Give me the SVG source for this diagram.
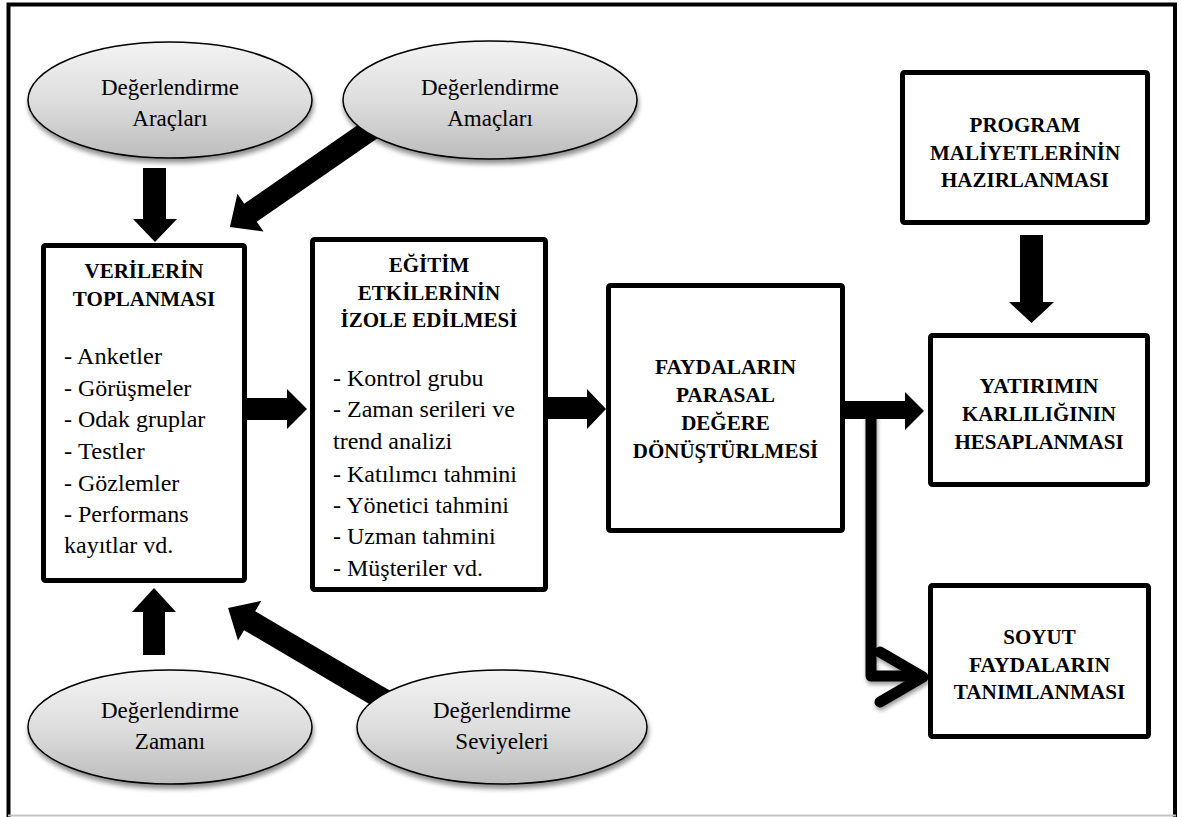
<svg xmlns="http://www.w3.org/2000/svg" width="1182" height="817" viewBox="0 0 1182 817" font-family="'Liberation Serif', Tinos, 'Times New Roman', Times, 'Nimbus Roman', 'DejaVu Serif', 'Noto Serif', serif">
<style>
text{font-family:'Liberation Serif', Tinos, 'Times New Roman', Times, 'Nimbus Roman', 'DejaVu Serif', 'Noto Serif', serif}
.box{fill:#fff;stroke:#000;stroke-width:5;stroke-linejoin:round}
.ell{fill:url(#eg);stroke:#000;stroke-width:1.5;filter:url(#sh)}
.et{font-size:23px;fill:#000;text-anchor:middle}
.bt{font-size:21px;font-weight:bold;fill:#000;text-anchor:middle}
.lt{font-size:24px;fill:#000}
.arr{fill:#000;stroke:none}
</style>
<defs>
<linearGradient id="eg" x1="0" y1="0" x2="0" y2="1">
<stop offset="0" stop-color="#f3f3f3"/>
<stop offset="0.5" stop-color="#dedede"/>
<stop offset="1" stop-color="#bcbcbc"/>
</linearGradient>
<filter id="sh" x="-10%" y="-10%" width="120%" height="130%">
<feGaussianBlur in="SourceAlpha" stdDeviation="2.5"/>
<feOffset dx="1" dy="4" result="o"/>
<feComponentTransfer><feFuncA type="linear" slope="0.45"/></feComponentTransfer>
<feMerge><feMergeNode/><feMergeNode in="SourceGraphic"/></feMerge>
</filter>
<filter id="sh2" x="-20%" y="-20%" width="140%" height="140%">
<feGaussianBlur in="SourceAlpha" stdDeviation="2"/>
<feOffset dx="1" dy="3"/>
<feComponentTransfer><feFuncA type="linear" slope="0.4"/></feComponentTransfer>
<feMerge><feMergeNode/><feMergeNode in="SourceGraphic"/></feMerge>
</filter>
</defs>
<rect x="0" y="0" width="1182" height="817" fill="#fff"/>
<g id="frame">
<path d="M8.5,817 V4.5 H1175 V817" fill="none" stroke="#000" stroke-width="4"/>
<line x1="8" y1="815.5" x2="1176" y2="815.5" stroke="#c4c4c4" stroke-width="2"/>
</g>

<g id="connectors">
<polygon class="arr" points="143,168 166,168 166,219 177,219 155,242 133,219 143,219"/>
<polygon class="arr" transform="translate(373.4,127.6) rotate(145.3)" points="0,-11 149.5,-11 149.5,-23 174.5,0 149.5,23 149.5,11 0,11"/>
<polygon class="arr" points="143,655 165,655 165,612 176,612 154,588 132,612 143,612"/>
<polygon class="arr" transform="translate(388,702.2) rotate(-149.5)" points="0,-11 160.6,-11 160.6,-23 185.6,0 160.6,23 160.6,11 0,11"/>
<polygon class="arr" points="247,398 287,398 287,389 307,409 287,429 287,420 247,420"/>
<polygon class="arr" points="547,397 587,397 587,389 606,409 587,429 587,419 547,419"/>
<polygon class="arr" points="843,401 905,401 905,392 924,411 905,430 905,419 843,419"/>
<polygon class="arr" points="1020,235 1043,235 1043,302 1054,302 1031.5,323 1009,302 1020,302"/>
<g filter="url(#sh2)" fill="none" stroke="#000" stroke-width="11" stroke-linecap="round" stroke-linejoin="round">
<path d="M871,411 V676 H918"/>
<polyline points="880,652 923,677 880,702"/>
</g>
</g>

<g id="n-araclari">
<ellipse class="ell" cx="170" cy="100" rx="142" ry="58"/>
<text class="et" x="170" y="95" textLength="138" lengthAdjust="spacingAndGlyphs">Değerlendirme</text>
<text class="et" x="170" y="126" textLength="75.3" lengthAdjust="spacingAndGlyphs">Araçları</text>
</g>
<g id="n-amaclari">
<ellipse class="ell" cx="490" cy="100" rx="147" ry="59"/>
<text class="et" x="490" y="95" textLength="138" lengthAdjust="spacingAndGlyphs">Değerlendirme</text>
<text class="et" x="490" y="126" textLength="85.6" lengthAdjust="spacingAndGlyphs">Amaçları</text>
</g>
<g id="n-zamani">
<ellipse class="ell" cx="170" cy="727" rx="142" ry="57"/>
<text class="et" x="170" y="718" textLength="138" lengthAdjust="spacingAndGlyphs">Değerlendirme</text>
<text class="et" x="170" y="749" textLength="70.3" lengthAdjust="spacingAndGlyphs">Zamanı</text>
</g>
<g id="n-seviyeleri">
<ellipse class="ell" cx="502" cy="727" rx="145" ry="57"/>
<text class="et" x="502" y="718" textLength="138" lengthAdjust="spacingAndGlyphs">Değerlendirme</text>
<text class="et" x="502" y="749" textLength="93.3" lengthAdjust="spacingAndGlyphs">Seviyeleri</text>
</g>

<g id="n-veriler">
<rect class="box" x="43.5" y="245.5" width="201" height="335" rx="2"/>
<text class="bt" x="144" y="278" textLength="119" lengthAdjust="spacingAndGlyphs">VERİLERİN</text>
<text class="bt" x="144" y="306" textLength="142.3" lengthAdjust="spacingAndGlyphs">TOPLANMASI</text>
<text class="lt" x="64" y="364" textLength="98" lengthAdjust="spacingAndGlyphs">- Anketler</text>
<text class="lt" x="64" y="396" textLength="127.3" lengthAdjust="spacingAndGlyphs">- Görüşmeler</text>
<text class="lt" x="64" y="427" textLength="141.3" lengthAdjust="spacingAndGlyphs">- Odak gruplar</text>
<text class="lt" x="64" y="459" textLength="80.6" lengthAdjust="spacingAndGlyphs">- Testler</text>
<text class="lt" x="64" y="491" textLength="115.3" lengthAdjust="spacingAndGlyphs">- Gözlemler</text>
<text class="lt" x="64" y="522" textLength="124.6" lengthAdjust="spacingAndGlyphs">- Performans</text>
<text class="lt" x="64" y="553" textLength="109.3" lengthAdjust="spacingAndGlyphs">kayıtlar vd.</text>
</g>

<g id="n-egitim">
<rect class="box" x="312.5" y="239.5" width="233" height="350" rx="2"/>
<text class="bt" x="429" y="272" textLength="80.5" lengthAdjust="spacingAndGlyphs">EĞİTİM</text>
<text class="bt" x="429" y="300" textLength="142.4" lengthAdjust="spacingAndGlyphs">ETKİLERİNİN</text>
<text class="bt" x="429" y="327" textLength="176.8" lengthAdjust="spacingAndGlyphs">İZOLE EDİLMESİ</text>
<text class="lt" x="333" y="386" textLength="150.6" lengthAdjust="spacingAndGlyphs">- Kontrol grubu</text>
<text class="lt" x="333" y="417" textLength="181.9" lengthAdjust="spacingAndGlyphs">- Zaman serileri ve</text>
<text class="lt" x="333" y="449" textLength="119.3" lengthAdjust="spacingAndGlyphs">trend analizi</text>
<text class="lt" x="333" y="482" textLength="184" lengthAdjust="spacingAndGlyphs">- Katılımcı tahmini</text>
<text class="lt" x="333" y="513" textLength="176" lengthAdjust="spacingAndGlyphs">- Yönetici tahmini</text>
<text class="lt" x="333" y="544" textLength="162.6" lengthAdjust="spacingAndGlyphs">- Uzman tahmini</text>
<text class="lt" x="333" y="576" textLength="150" lengthAdjust="spacingAndGlyphs">- Müşteriler vd.</text>
</g>

<g id="n-faydalar">
<rect class="box" x="608.5" y="285.5" width="234" height="245" rx="2"/>
<text class="bt" x="725.5" y="374" textLength="141.1" lengthAdjust="spacingAndGlyphs">FAYDALARIN</text>
<text class="bt" x="725.5" y="402" textLength="99.2" lengthAdjust="spacingAndGlyphs">PARASAL</text>
<text class="bt" x="725.5" y="430" textLength="88.7" lengthAdjust="spacingAndGlyphs">DEĞERE</text>
<text class="bt" x="725.5" y="458" textLength="185.5" lengthAdjust="spacingAndGlyphs">DÖNÜŞTÜRLMESİ</text>
</g>

<g id="n-program">
<rect class="box" x="902.5" y="72.5" width="245" height="150" rx="2"/>
<text class="bt" x="1025" y="132" textLength="110.8" lengthAdjust="spacingAndGlyphs">PROGRAM</text>
<text class="bt" x="1025" y="160" textLength="190.2" lengthAdjust="spacingAndGlyphs">MALİYETLERİNİN</text>
<text class="bt" x="1025" y="187" textLength="168" lengthAdjust="spacingAndGlyphs">HAZIRLANMASI</text>
</g>

<g id="n-yatirim">
<rect class="box" x="930.5" y="335.5" width="217" height="149" rx="2"/>
<text class="bt" x="1039" y="393" textLength="119" lengthAdjust="spacingAndGlyphs">YATIRIMIN</text>
<text class="bt" x="1039" y="421" textLength="154" lengthAdjust="spacingAndGlyphs">KARLILIĞININ</text>
<text class="bt" x="1039" y="449" textLength="169.2" lengthAdjust="spacingAndGlyphs">HESAPLANMASI</text>
</g>

<g id="n-soyut">
<rect class="box" x="930.5" y="585.5" width="218" height="151" rx="2"/>
<text class="bt" x="1039.5" y="644" textLength="72.3" lengthAdjust="spacingAndGlyphs">SOYUT</text>
<text class="bt" x="1039.5" y="672" textLength="141.1" lengthAdjust="spacingAndGlyphs">FAYDALARIN</text>
<text class="bt" x="1039.5" y="699" textLength="171.5" lengthAdjust="spacingAndGlyphs">TANIMLANMASI</text>
</g>
</svg>
